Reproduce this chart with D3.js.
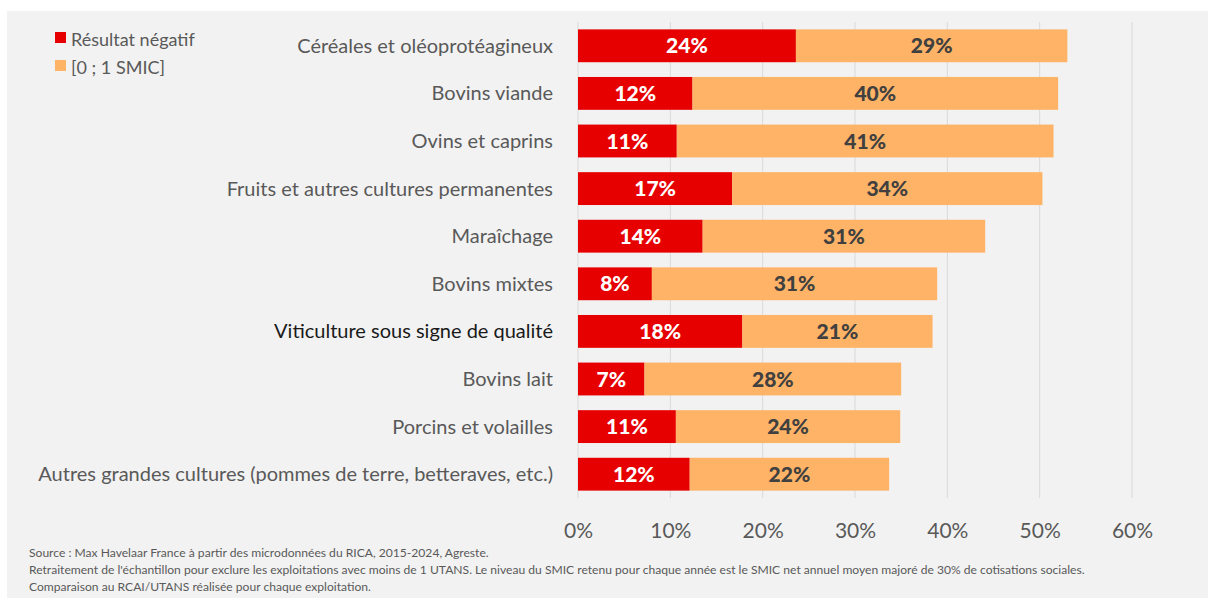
<!DOCTYPE html>
<html><head><meta charset="utf-8">
<script src="https://cdn.jsdelivr.net/npm/d3@7"></script>
<style>
html,body{margin:0;padding:0;background:#fff;}
svg{display:block;}
</style></head>
<body>
<svg id="chart" width="1208" height="598"></svg>
<script>
const categories = [
  "Céréales et oléoprotéagineux",
  "Bovins viande",
  "Ovins et caprins",
  "Fruits et autres cultures permanentes",
  "Maraîchage",
  "Bovins mixtes",
  "Viticulture sous signe de qualité",
  "Bovins lait",
  "Porcins et volailles",
  "Autres grandes cultures (pommes de terre, betteraves, etc.)"
];
const negatif = [23.6, 12.4, 10.7, 16.7, 13.5, 8.0, 17.8, 7.2, 10.6, 12.1];
const smic    = [29.4, 39.6, 40.8, 33.6, 30.6, 30.9, 20.6, 27.8, 24.3, 21.6];
const seriesNames = ["Résultat négatif", "[0 ; 1 SMIC]"];
const seriesColors = ["#E60000", "#FFB366"];
const tickValues = [0, 10, 20, 30, 40, 50, 60];
const footerLines = [
  "Source : Max Havelaar France à partir des microdonnées du RICA, 2015-2024, Agreste.",
  "Retraitement de l'échantillon pour exclure les exploitations avec moins de 1 UTANS. Le niveau du SMIC retenu pour chaque année est le SMIC net annuel moyen majoré de 30% de cotisations sociales.",
  "Comparaison au RCAI/UTANS réalisée pour chaque exploitation."
];

const svg = d3.select("#chart");
const font = "Lato, 'Open Sans', sans-serif";

// panel background
svg.append("rect").attr("x", 7).attr("y", 11).attr("width", 1201).attr("height", 587).attr("fill", "#F2F2F2");

const x = d3.scaleLinear().domain([0, 60]).range([578, 1132]);
const y = d3.scaleBand().domain(categories).range([22, 498]).paddingInner(0.31).paddingOuter(0.155);

// gridlines
svg.append("g").selectAll("line").data(tickValues).join("line")
  .attr("x1", d => x(d)).attr("x2", d => x(d))
  .attr("y1", 22).attr("y2", 498)
  .attr("stroke", "#D9D9D9").attr("stroke-width", 1);

// axis labels
const axis = d3.axisBottom(x).tickValues(tickValues).tickFormat(d => d + "%").tickSize(0).tickPadding(0);
const ag = svg.append("g").attr("transform", "translate(0,523)").call(axis);
ag.select(".domain").remove();
ag.selectAll("text").attr("font-family", font).attr("font-size", 21).attr("fill", "#595959").attr("dy", "0.71em");

// stacked bars
const rows = categories.map((c, i) => ({c, v: [negatif[i], smic[i]]}));
const segs = [];
rows.forEach(r => {
  let acc = 0;
  r.v.forEach((v, k) => { segs.push({c: r.c, k, x0: acc, x1: acc + v, v}); acc += v; });
});
svg.append("g").selectAll("rect").data(segs).join("rect")
  .attr("x", d => x(d.x0)).attr("width", d => x(d.x1) - x(d.x0))
  .attr("y", d => y(d.c)).attr("height", y.bandwidth())
  .attr("fill", d => seriesColors[d.k]);

// value labels
svg.append("g").selectAll("text").data(segs).join("text")
  .attr("x", d => (x(d.x0) + x(d.x1)) / 2)
  .attr("y", d => y(d.c) + y.bandwidth() / 2)
  .attr("dy", "0.36em")
  .attr("text-anchor", "middle")
  .attr("font-family", font).attr("font-weight", 900).attr("font-size", 21)
  .attr("fill", d => d.k === 0 ? "#FFFFFF" : "#404040")
  .text(d => Math.round(d.v) + "%");

// category labels
svg.append("g").selectAll("text").data(categories).join("text")
  .attr("x", 553).attr("y", d => y(d) + y.bandwidth() / 2).attr("dy", "0.35em")
  .attr("text-anchor", "end")
  .attr("font-family", font).attr("font-size", 20)
  .attr("fill", d => d.startsWith("Viticulture") ? "#1a1a1a" : "#595959")
  .text(d => d);

// legend
const lg = svg.append("g");
seriesNames.forEach((n, i) => {
  lg.append("rect").attr("x", 55).attr("y", 32 + i * 28).attr("width", 11).attr("height", 11).attr("fill", seriesColors[i]);
  lg.append("text").attr("x", 71).attr("y", 32 + i * 28 + 7.5).attr("dy", "0.35em")
    .attr("font-family", font).attr("font-size", 18).attr("fill", "#595959").text(n);
});

// footer
svg.append("g").selectAll("text").data(footerLines).join("text")
  .attr("x", 29).attr("y", (d, i) => 557 + i * 17)
  .attr("font-family", font).attr("font-size", 12.1).attr("fill", "#595959")
  .text(d => d);
</script>
</body></html>
